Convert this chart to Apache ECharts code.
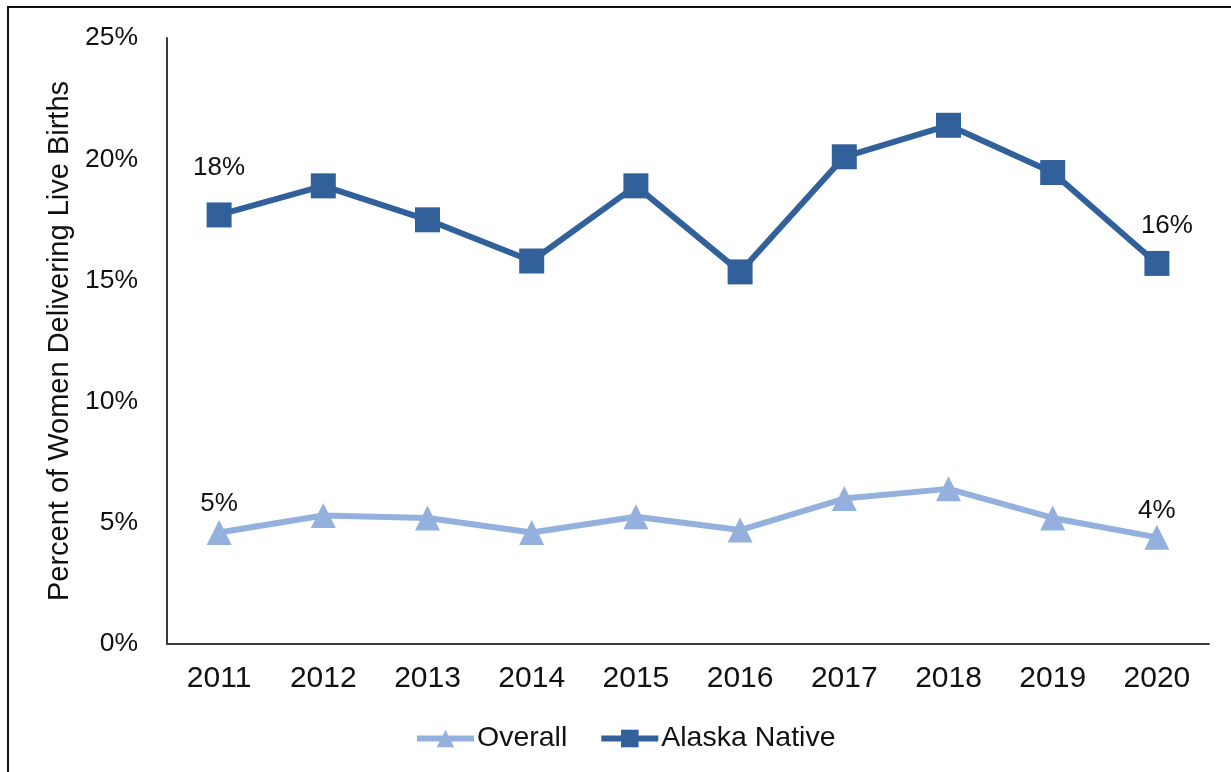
<!DOCTYPE html>
<html>
<head>
<meta charset="utf-8">
<style>
  html, body { margin: 0; padding: 0; background: #fff; }
  #chart { position: absolute; left: 0; top: 0; width: 1231px; height: 772px; }
  #frame { position: absolute; left: 7px; top: 6px; right: -4px; bottom: -4px;
           border-top: 2px solid #111; border-left: 2px solid #111; pointer-events: none; }
</style>
<script src="https://cdn.jsdelivr.net/npm/echarts@6/dist/echarts.min.js"></script>
</head>
<body>
<div id="chart"></div>
<div id="frame"></div>
<script>
// Years on the category axis
const years = ['2011', '2012', '2013', '2014', '2015', '2016', '2017', '2018', '2019', '2020'];

// Percent of women delivering live births
const overall = [4.6, 5.3, 5.2, 4.6, 5.25, 4.7, 6.0, 6.4, 5.2, 4.4];
const alaskaNative = [17.7, 18.9, 17.5, 15.8, 18.9, 15.35, 20.1, 21.4, 19.45, 15.7];

// Y axis ticks
const yTicks = [0, 5, 10, 15, 20, 25];

const FONT = '"Liberation Sans", Arial, sans-serif';
const DARK = '#31609a';
const LIGHT = '#93b1dc';

// Only the first and last points carry a value label
function withEndLabels(values, firstLabel, lastLabel) {
  return values.map((v, i) => {
    if (i === 0) return { value: v, label: Object.assign({ show: true }, firstLabel) };
    if (i === values.length - 1) return { value: v, label: Object.assign({ show: true }, lastLabel) };
    return v;
  });
}

const labelText = {
  position: 'top',
  color: '#111',
  fontSize: 26,
  fontFamily: FONT,
  formatter: p => Math.round(p.value) + '%'
};

const chart = echarts.init(document.getElementById('chart'), null, { renderer: 'canvas' });

chart.setOption({
  backgroundColor: '#fff',
  animation: false,
  grid: { left: 167, right: 22, top: 38, bottom: 128, containLabel: false },
  legend: {
    left: 409,
    top: 719,
    itemWidth: 57,
    itemHeight: 22,
    itemGap: 31,
    lineStyle: { width: 6 },
    textStyle: { color: '#111', fontSize: 28.5, fontFamily: FONT, padding: [0, 0, 0, -2] },
    data: ['Overall', 'Alaska Native']
  },
  xAxis: {
    type: 'category',
    data: years,
    boundaryGap: true,
    axisLine: { lineStyle: { color: '#3a3a3a', width: 2 } },
    axisTick: { show: false },
    axisLabel: { color: '#111', fontSize: 30, fontFamily: FONT, margin: 20 }
  },
  yAxis: {
    type: 'value',
    min: yTicks[0],
    max: yTicks[yTicks.length - 1],
    interval: 5,
    name: 'Percent of Women Delivering Live Births',
    nameLocation: 'middle',
    nameGap: 92,
    nameRotate: 90,
    nameTextStyle: { color: '#111', fontSize: 29, fontFamily: FONT },
    axisLine: { show: true, lineStyle: { color: '#3a3a3a', width: 2 } },
    axisTick: { show: false },
    splitLine: { show: false },
    axisLabel: { color: '#111', fontSize: 26.5, fontFamily: FONT, margin: 29, formatter: v => v + '%' }
  },
  series: [
    {
      name: 'Overall',
      type: 'line',
      data: withEndLabels(overall, { distance: 3 }, { distance: 1 }),
      symbol: 'triangle',
      symbolSize: [25, 25],
      lineStyle: { color: LIGHT, width: 6 },
      itemStyle: { color: LIGHT },
      label: labelText,
      z: 2
    },
    {
      name: 'Alaska Native',
      type: 'line',
      data: withEndLabels(alaskaNative, { distance: 22 }, { distance: 12, offset: [10, 0] }),
      symbol: 'rect',
      symbolSize: 25,
      lineStyle: { color: DARK, width: 6 },
      itemStyle: { color: DARK },
      label: labelText,
      z: 3
    }
  ]
});
</script>
</body>
</html>
